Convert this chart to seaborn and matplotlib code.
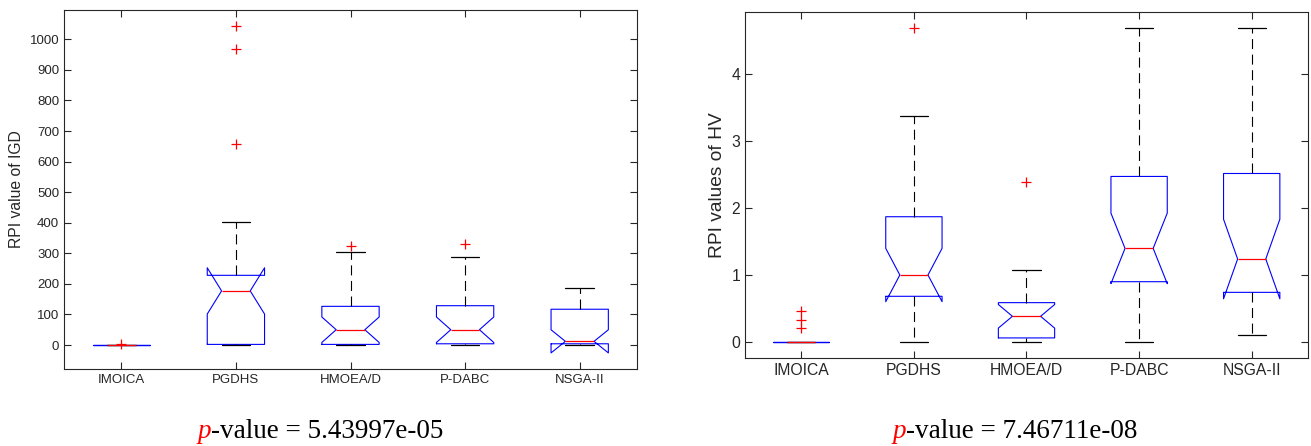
import matplotlib
matplotlib.use("Agg")
import matplotlib.pyplot as plt
import pandas as pd
import seaborn as sns

algos = ["IMOICA", "PGDHS", "HMOEA/D", "P-DABC", "NSGA-II"]

# RPI de IGD (22 corridas por algoritmo)
igd_imoica = [0, 0, 0, 0, 0, 0, 0, 0, 0, 0, 0, 0, 0, 0, 0, 0, 0, 0, 0, 0, 0, 2.4]
igd_pgdhs = [0, 0.4, 1.1, 1.6, 1.9, 2, 2, 24, 65, 118, 177, 177, 186, 198, 212,
             228, 228, 247, 403, 657, 969, 1043]
igd_hmoead = [0, 0.3, 0.8, 1.2, 1.7, 2, 2, 8, 19, 33, 50, 50, 63, 78, 96,
              126.5, 126.5, 148, 176, 231, 305, 325]
igd_pdabc = [0, 0.8, 1.5, 2.4, 3.2, 4, 4, 11, 22, 37, 50, 50, 64, 81, 104,
             128.6, 128.6, 152, 190, 238, 287, 330]
igd_nsga2 = [0, 0.5, 1.2, 2, 3, 4, 4, 6, 8, 10, 12, 12, 18, 35, 70,
             117, 117, 132, 150, 163, 175, 186]

# RPI de HV
hv_imoica = [0, 0, 0, 0, 0, 0, 0, 0, 0, 0, 0, 0, 0, 0, 0, 0, 0, 0, 0,
             0.21, 0.33, 0.46]
hv_pgdhs = [0, 0.12, 0.31, 0.47, 0.6, 0.682, 0.682, 0.75, 0.83, 0.92, 1.0, 1.0,
            1.12, 1.3, 1.55, 1.871, 1.871, 2.1, 2.45, 2.9, 3.378, 4.697]
hv_hmoead = [0, 0.01, 0.02, 0.03, 0.045, 0.06, 0.06, 0.12, 0.2, 0.3, 0.383, 0.383,
             0.43, 0.48, 0.53, 0.587, 0.587, 0.66, 0.75, 0.88, 1.07, 2.393]
hv_pdabc = [0, 0.3, 0.55, 0.72, 0.83, 0.9, 0.9, 1.02, 1.15, 1.28, 1.398, 1.398,
            1.6, 1.85, 2.15, 2.473, 2.473, 2.8, 3.2, 3.7, 4.2, 4.697]
hv_nsga2 = [0.104, 0.3, 0.45, 0.58, 0.67, 0.741, 0.741, 0.86, 0.98, 1.11, 1.239, 1.239,
            1.45, 1.75, 2.1, 2.517, 2.517, 2.9, 3.3, 3.8, 4.25, 4.697]

p_igd = "5.43997e-05"
p_hv = "7.46711e-08"

igd_df = pd.DataFrame(dict(zip(algos, [igd_imoica, igd_pgdhs, igd_hmoead, igd_pdabc, igd_nsga2])))
igd_df = igd_df.melt(var_name="algo", value_name="value")
hv_df = pd.DataFrame(dict(zip(algos, [hv_imoica, hv_pgdhs, hv_hmoead, hv_pdabc, hv_nsga2])))
hv_df = hv_df.melt(var_name="algo", value_name="value")

sns.set_theme(style="ticks")
plt.rcParams["font.family"] = ["Liberation Sans", "DejaVu Sans"]
TXT = "#262626"

fig = plt.figure(figsize=(13.11, 4.46), dpi=100)
ax1 = fig.add_axes([64 / 1311, 77 / 446, 573 / 1311, 359 / 446])
ax2 = fig.add_axes([745 / 1311, 88 / 446, 563 / 1311, 346 / 446])


def matlab_box(ax, df, fs):
    sns.boxplot(
        data=df, x="algo", y="value", order=algos, ax=ax,
        width=0.5, fill=False, color="blue", whis=1.5, notch=True, linewidth=0.8,
        medianprops={"color": "red", "linewidth": 0.9},
        whiskerprops={"color": "black", "linewidth": 0.8, "linestyle": (0, (9, 5))},
        capprops={"color": "black", "linewidth": 0.9},
        flierprops={"marker": "+", "markersize": 7, "markeredgecolor": "red",
                    "markeredgewidth": 0.9},
    )
    ax.set_xlim(-0.5, 4.5)
    ax.set_xlabel("")
    for s in ax.spines.values():
        s.set_visible(True)
        s.set_linewidth(0.8)
        s.set_color(TXT)
    ax.tick_params(direction="in", top=True, right=True, length=5, width=0.8,
                   colors=TXT, labelsize=fs)


matlab_box(ax1, igd_df, 9.5)
ax1.set_ylim(-78.5, 1096)
ax1.set_yticks(range(0, 1001, 100))
ax1.set_ylabel("RPI value of IGD", fontsize=11.3, color=TXT)

matlab_box(ax2, hv_df, 11.3)
ax2.set_ylim(-0.24, 4.93)
ax2.set_yticks(range(0, 5))
ax2.set_ylabel("RPI values of HV", fontsize=13.8, color=TXT)

for xj, pv in [(211, p_igd), (906, p_hv)]:
    fig.text(xj / 1311, 0.018, "p", color="red", style="italic", fontsize=19.5,
             family="Liberation Serif", ha="right", va="baseline")
    fig.text(xj / 1311, 0.018, "-value = " + pv, color="black", fontsize=19.5,
             family="Liberation Serif", ha="left", va="baseline")

fig.savefig("out.png", dpi=100)
